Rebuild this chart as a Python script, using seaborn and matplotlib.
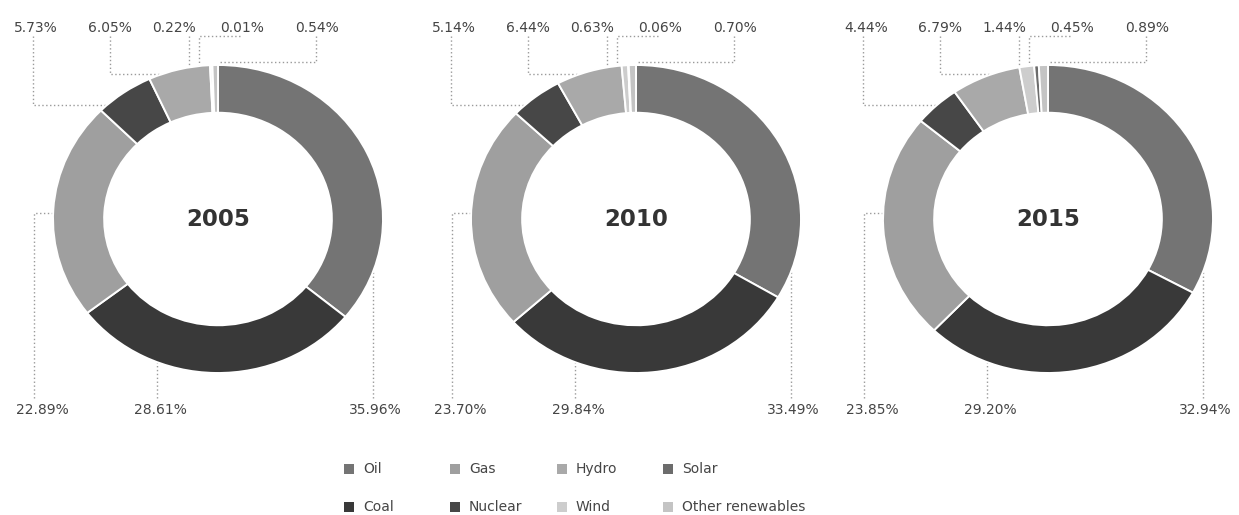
import numpy as np
import matplotlib
matplotlib.use("Agg")
import matplotlib.pyplot as plt
import seaborn as sns

# Energy mix shares (%) per year, clockwise from 12 o'clock
years = ["2005", "2010", "2015"]
categories = ["Oil", "Coal", "Gas", "Nuclear", "Hydro", "Wind", "Solar", "Other renewables"]
oil = [35.96, 33.49, 32.94]
coal = [28.61, 29.84, 29.20]
gas = [22.89, 23.70, 23.85]
nuclear = [5.73, 5.14, 4.44]
hydro = [6.05, 6.44, 6.79]
wind = [0.22, 0.63, 1.44]
solar = [0.01, 0.06, 0.45]
other = [0.54, 0.70, 0.89]

series = [oil, coal, gas, nuclear, hydro, wind, solar, other]
palette = sns.color_palette(["#747474", "#393939", "#9f9f9f", "#474747",
                             "#a9a9a9", "#cdcdcd", "#6c6c6c", "#c4c4c4"])

sns.set_theme(style="white")
plt.rcParams["font.family"] = ["DejaVu Sans"]

W, H = 1239, 515
fig = plt.figure(figsize=(W / 100, H / 100), dpi=100)
fig.patch.set_facecolor("white")

# full-figure overlay in pixel units for leaders, labels and legend
ov = fig.add_axes([0, 0, 1, 1], zorder=0)
ov.set_xlim(0, W)
ov.set_ylim(H, 0)
ov.axis("off")

centers_x = [218, 636, 1048]
cy, rx, ry = 219, 165, 154
ring = 0.31
txt_col = "#454545"
lead = dict(color="#9a9a9a", lw=1.0, linestyle=(0, (1, 1.8)))

def edge_y(cx, x, top=True):
    u = np.clip((x - cx) / rx, -1, 1)
    d = ry * np.sqrt(1 - u ** 2)
    return cy - d if top else cy + d

def edge_x(cx, y, left=True):
    v = np.clip((y - cy) / ry, -1, 1)
    d = rx * np.sqrt(1 - v ** 2)
    return cx - d if left else cx + d

for i, (cx, yr) in enumerate(zip(centers_x, years)):
    vals = [s[i] for s in series]
    ax = fig.add_axes([(cx - rx) / W, (H - cy - ry) / H, 2 * rx / W, 2 * ry / H], zorder=2)
    ax.pie(vals, colors=palette, startangle=90, counterclock=False, radius=1,
           wedgeprops=dict(width=ring, edgecolor="white", linewidth=1.4))
    ax.set_xlim(-1, 1)
    ax.set_ylim(-1, 1)
    ax.set_aspect("auto")
    ax.patch.set_alpha(0)
    ax.text(0, 0, yr, ha="center", va="center", fontsize=16.5,
            fontweight="bold", color="#333333")

    fmt = lambda v: f"{v:.2f}%"
    ty, by = 28, 410
    # top labels: Nuclear, Hydro, Wind, Solar, Other renewables
    # Nuclear: drop then run right to the ring
    lx = cx - 185
    ov.plot([lx, lx, edge_x(cx, 105)], [36, 105, 105], **lead)
    ov.text(cx - 182, ty, fmt(nuclear[i]), ha="center", va="center", fontsize=10, color=txt_col)
    # Hydro
    lx = cx - 108
    ov.plot([lx, lx, edge_x(cx, 74)], [36, 74, 74], **lead)
    ov.text(cx - 108, ty, fmt(hydro[i]), ha="center", va="center", fontsize=10, color=txt_col)
    # Wind
    lx = cx - 29
    ov.plot([lx, lx], [36, edge_y(cx, lx)], **lead)
    ov.text(cx - 44, ty, fmt(wind[i]), ha="center", va="center", fontsize=10, color=txt_col)
    # Solar
    lx = cx - 19
    ov.plot([cx + 22, lx, lx], [36, 36, edge_y(cx, lx)], **lead)
    ov.text(cx + 24, ty, fmt(solar[i]), ha="center", va="center", fontsize=10, color=txt_col)
    # Other renewables
    lx = cx + 98
    ov.plot([lx, lx, cx + 2], [36, cy - ry - 3, cy - ry - 3], **lead)
    ov.text(cx + 99, ty, fmt(other[i]), ha="center", va="center", fontsize=10, color=txt_col)

    # bottom labels: Gas, Coal, Oil
    lx = cx - 184
    ov.plot([lx, lx, edge_x(cx, 213)], [398, 213, 213], **lead)
    ov.text(cx - 176, by, fmt(gas[i]), ha="center", va="center", fontsize=10, color=txt_col)
    lx = cx - 61
    ov.plot([lx, lx], [398, edge_y(cx, lx, top=False)], **lead)
    ov.text(cx - 58, by, fmt(coal[i]), ha="center", va="center", fontsize=10, color=txt_col)
    lx = cx + 155
    ov.plot([lx, lx], [398, edge_y(cx, lx, top=False)], **lead)
    ov.text(cx + 157, by, fmt(oil[i]), ha="center", va="center", fontsize=10, color=txt_col)

# legend: 4 columns x 2 rows, filled column-first
col_x = [349, 455, 562, 668]
row_y = [469, 507]
for k, (name, col) in enumerate(zip(categories, palette)):
    c, r = divmod(k, 2)
    ov.scatter([col_x[c]], [row_y[r]], marker="s", s=62, color=col, linewidths=0)
    ov.text(col_x[c] + 14, row_y[r], name, ha="left", va="center", fontsize=10, color=txt_col)

fig.savefig("out.png", dpi=100, facecolor="white")
